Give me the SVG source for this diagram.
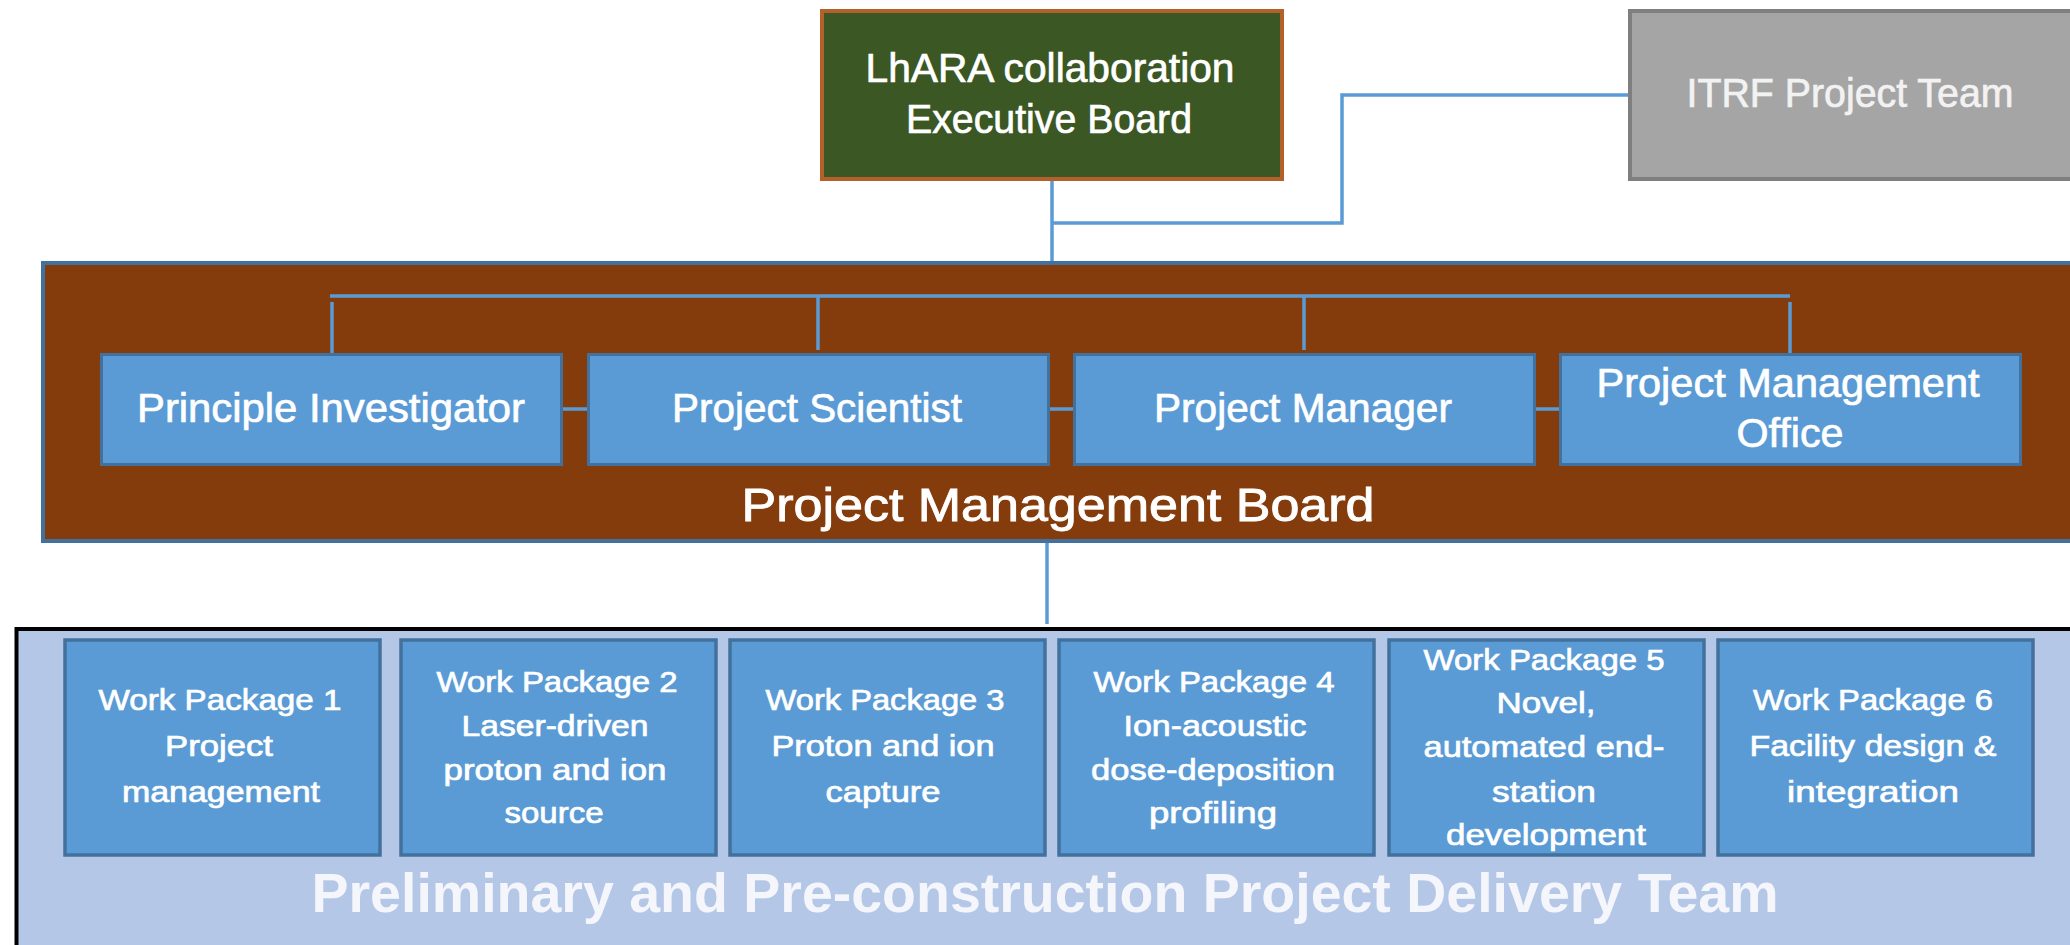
<svg xmlns="http://www.w3.org/2000/svg" width="2070" height="945" viewBox="0 0 2070 945">
<style>
text{font-family:"Liberation Sans",Arial,sans-serif;fill:#FFFFFF;text-anchor:middle}
.l{font-size:41px;stroke:#FFFFFF;stroke-width:0.7}
.t{font-size:46px;stroke:#FFFFFF;stroke-width:0.9}
.w{font-size:30px;stroke:#FFFFFF;stroke-width:0.7}
.d{font-size:56px;font-weight:bold;fill:#F4F6FB}
.blue{fill:#5B9BD5;stroke:#41719C;stroke-width:3}
.wp{fill:#5B9BD5;stroke:#41719C;stroke-width:3.5}
.c{fill:none;stroke:#5B9BD5;stroke-width:3.5}
</style>
<rect width="2070" height="945" fill="#FFFFFF"/>
<g id="delivery-team">
<rect x="16.5" y="629" width="2100" height="400" fill="#B4C7E7" stroke="#000000" stroke-width="4"/>
<text class="d" x="1045" y="912" textLength="1467" lengthAdjust="spacingAndGlyphs">Preliminary and Pre-construction Project Delivery Team</text>
</g>
<g id="pmb">
<rect x="43" y="263" width="2100" height="278" fill="#843C0C" stroke="#41719C" stroke-width="4"/>
<text class="t" x="1058" y="521" textLength="633" lengthAdjust="spacingAndGlyphs">Project Management Board</text>
</g>
<g id="connectors">
<path class="c" d="M1052,181 V261 M1052,223 H1342 V95 H1628"/>
<path class="c" d="M330,296 H1790 M332,302 V353 M818,296 V350 M1304,296 V350 M1790,302 V353"/>
<path class="c" d="M563,409 H587 M1050,409 H1073 M1535,409 H1559"/>
<path class="c" d="M1047,543 V624"/>
</g>
<g id="exec-board">
<rect x="822" y="11" width="460" height="168" fill="#3A5724" stroke="#B4602B" stroke-width="4"/>
<text class="l" x="1050" y="82" textLength="369" lengthAdjust="spacingAndGlyphs">LhARA collaboration</text>
<text class="l" x="1049" y="133" textLength="286" lengthAdjust="spacingAndGlyphs">Executive Board</text>
</g>
<g id="itrf">
<rect x="1630" y="11" width="460" height="168" fill="#A5A5A5" stroke="#7F7F7F" stroke-width="4"/>
<text class="l" x="1850" y="107" textLength="327" lengthAdjust="spacingAndGlyphs" style="fill:#F2F2F2;stroke:#F2F2F2">ITRF Project Team</text>
</g>
<g id="pi">
<rect class="blue" x="101.5" y="354.5" width="460" height="110"/>
<text class="l" x="331" y="422" textLength="388" lengthAdjust="spacingAndGlyphs">Principle Investigator</text>
</g>
<g id="ps">
<rect class="blue" x="588.5" y="354.5" width="460" height="110"/>
<text class="l" x="817" y="422" textLength="290" lengthAdjust="spacingAndGlyphs">Project Scientist</text>
</g>
<g id="pm">
<rect class="blue" x="1074.5" y="354.5" width="460" height="110"/>
<text class="l" x="1303" y="422" textLength="298" lengthAdjust="spacingAndGlyphs">Project Manager</text>
</g>
<g id="pmo">
<rect class="blue" x="1560.5" y="354.5" width="460" height="110"/>
<text class="l" x="1788" y="397" textLength="383" lengthAdjust="spacingAndGlyphs">Project Management</text>
<text class="l" x="1790" y="447" textLength="107" lengthAdjust="spacingAndGlyphs">Office</text>
</g>
<g id="wp1">
<rect class="wp" x="65" y="640" width="315" height="215"/>
<text class="w" x="220" y="710" textLength="243" lengthAdjust="spacingAndGlyphs">Work Package 1</text>
<text class="w" x="219" y="756" textLength="108" lengthAdjust="spacingAndGlyphs">Project</text>
<text class="w" x="221" y="802" textLength="198" lengthAdjust="spacingAndGlyphs">management</text>
</g>
<g id="wp2">
<rect class="wp" x="401" y="640" width="315" height="215"/>
<text class="w" x="557" y="692" textLength="241" lengthAdjust="spacingAndGlyphs">Work Package 2</text>
<text class="w" x="555" y="736" textLength="187" lengthAdjust="spacingAndGlyphs">Laser-driven</text>
<text class="w" x="555" y="780" textLength="223" lengthAdjust="spacingAndGlyphs">proton and ion</text>
<text class="w" x="554" y="823" textLength="99" lengthAdjust="spacingAndGlyphs">source</text>
</g>
<g id="wp3">
<rect class="wp" x="730" y="640" width="315" height="215"/>
<text class="w" x="885" y="710" textLength="239" lengthAdjust="spacingAndGlyphs">Work Package 3</text>
<text class="w" x="883" y="756" textLength="223" lengthAdjust="spacingAndGlyphs">Proton and ion</text>
<text class="w" x="883" y="802" textLength="115" lengthAdjust="spacingAndGlyphs">capture</text>
</g>
<g id="wp4">
<rect class="wp" x="1059" y="640" width="315" height="215"/>
<text class="w" x="1214" y="692" textLength="241" lengthAdjust="spacingAndGlyphs">Work Package 4</text>
<text class="w" x="1215" y="736" textLength="183" lengthAdjust="spacingAndGlyphs">Ion-acoustic</text>
<text class="w" x="1213" y="780" textLength="244" lengthAdjust="spacingAndGlyphs">dose-deposition</text>
<text class="w" x="1213" y="823" textLength="128" lengthAdjust="spacingAndGlyphs">profiling</text>
</g>
<g id="wp5">
<rect class="wp" x="1389" y="640" width="315" height="215"/>
<text class="w" x="1544" y="670" textLength="241" lengthAdjust="spacingAndGlyphs">Work Package 5</text>
<text class="w" x="1546" y="713" textLength="99" lengthAdjust="spacingAndGlyphs">Novel,</text>
<text class="w" x="1544" y="757" textLength="241" lengthAdjust="spacingAndGlyphs">automated end-</text>
<text class="w" x="1544" y="802" textLength="104" lengthAdjust="spacingAndGlyphs">station</text>
<text class="w" x="1546" y="845" textLength="200" lengthAdjust="spacingAndGlyphs">development</text>
</g>
<g id="wp6">
<rect class="wp" x="1718" y="640" width="315" height="215"/>
<text class="w" x="1873" y="710" textLength="240" lengthAdjust="spacingAndGlyphs">Work Package 6</text>
<text class="w" x="1873" y="756" textLength="247" lengthAdjust="spacingAndGlyphs">Facility design &amp;</text>
<text class="w" x="1873" y="802" textLength="172" lengthAdjust="spacingAndGlyphs">integration</text>
</g>
</svg>
